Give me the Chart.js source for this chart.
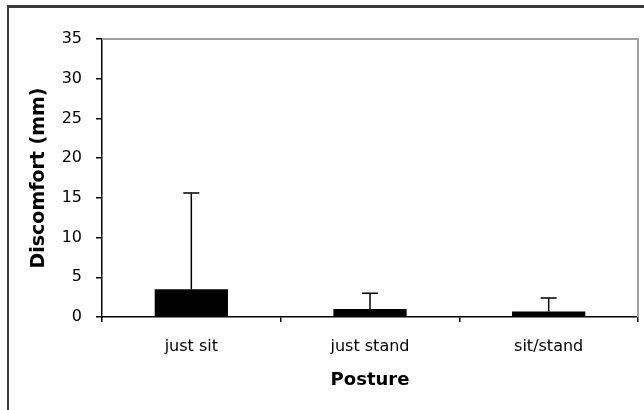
<!DOCTYPE html>
<html>
<head>
<meta charset="utf-8">
<script src="https://cdn.jsdelivr.net/npm/chart.js@4"></script>
<style>
  html, body { margin: 0; padding: 0; background: #fff; }
  #wrap { position: relative; width: 644px; height: 410px; overflow: hidden; }
  #frame {
    position: absolute; left: 7px; top: 5px; width: 700px; height: 500px;
    border-top: 3px solid #3a3a3a; border-left: 2px solid #3a3a3a;
  }
  canvas { position: absolute; left: 0; top: 0; }
</style>
</head>
<body>
<div id="wrap">
  <div id="frame"></div>
  <canvas id="chart" width="644" height="410"></canvas>
</div>
<script>
// Chart data
const postures = ['just sit', 'just stand', 'sit/stand'];
const discomfortMean = [3.5, 1.0, 0.7];
const discomfortSd = [12.1, 2.0, 1.7];
const yTicks = [0, 5, 10, 15, 20, 25, 30, 35];

// Gray frame on top and right of the plot area
const plotFrame = {
    id: 'plotFrame',
    beforeDatasetsDraw(chart) {
        const { ctx, chartArea: a } = chart;
        ctx.save();
        ctx.strokeStyle = '#a0a0a0';
        ctx.lineWidth = 2;
        ctx.beginPath();
        ctx.moveTo(a.left, a.top);
        ctx.lineTo(a.right, a.top);
        ctx.lineTo(a.right, a.bottom);
        ctx.stroke();
        ctx.restore();
    }
};

// Upper error bars only
const errorBars = {
    id: 'errorBars',
    afterDatasetsDraw(chart) {
        const { ctx } = chart;
        const yScale = chart.scales.y;
        const meta = chart.getDatasetMeta(0);
        ctx.save();
        ctx.strokeStyle = '#000';
        ctx.lineWidth = 1.5;
        meta.data.forEach((bar, i) => {
            const top = yScale.getPixelForValue(discomfortMean[i] + discomfortSd[i]);
            ctx.beginPath();
            ctx.moveTo(bar.x, bar.y);
            ctx.lineTo(bar.x, top);
            ctx.moveTo(bar.x - 8, top);
            ctx.lineTo(bar.x + 8, top);
            ctx.stroke();
        });
        ctx.restore();
    }
};

const tickFont = { family: 'DejaVu Sans', size: 16 };

new Chart(document.getElementById('chart'), {
    type: 'bar',
    data: {
        labels: postures,
        datasets: [{
            data: discomfortMean,
            backgroundColor: '#000',
            borderWidth: 0,
            categoryPercentage: 1,
            barPercentage: 0.41
        }]
    },
    options: {
        responsive: false,
        animation: false,
        layout: { padding: { left: 20, top: 39, right: 6, bottom: 19 } },
        plugins: {
            legend: { display: false },
            tooltip: { enabled: false }
        },
        scales: {
            x: {
                afterFit(scale) { scale.height = 74; },
                grid: {
                    offset: true,
                    drawOnChartArea: false,
                    drawTicks: true,
                    tickLength: 5,
                    color: '#000',
                    lineWidth: 1.5
                },
                border: { color: '#000', width: 1.5 },
                ticks: { color: '#000', font: tickFont, padding: 15, maxRotation: 0 },
                title: {
                    display: true,
                    text: 'Posture',
                    color: '#000',
                    font: { family: 'DejaVu Sans', size: 18, weight: 'bold' },
                    padding: 0
                }
            },
            y: {
                min: 0,
                max: 35,
                afterFit(scale) { scale.width = 82; },
                afterBuildTicks(scale) { scale.ticks = yTicks.map(v => ({ value: v })); },
                grid: {
                    drawOnChartArea: false,
                    drawTicks: true,
                    tickLength: 6,
                    color: '#000',
                    lineWidth: 1.5
                },
                border: { color: '#000', width: 1.5 },
                ticks: { color: '#000', font: tickFont, padding: 14 },
                title: {
                    display: true,
                    text: 'Discomfort (mm)',
                    color: '#000',
                    font: { family: 'DejaVu Sans', size: 19, weight: 'bold' },
                    padding: { top: 8, bottom: 0 }
                }
            }
        }
    },
    plugins: [plotFrame, errorBars]
});
</script>
</body>
</html>
